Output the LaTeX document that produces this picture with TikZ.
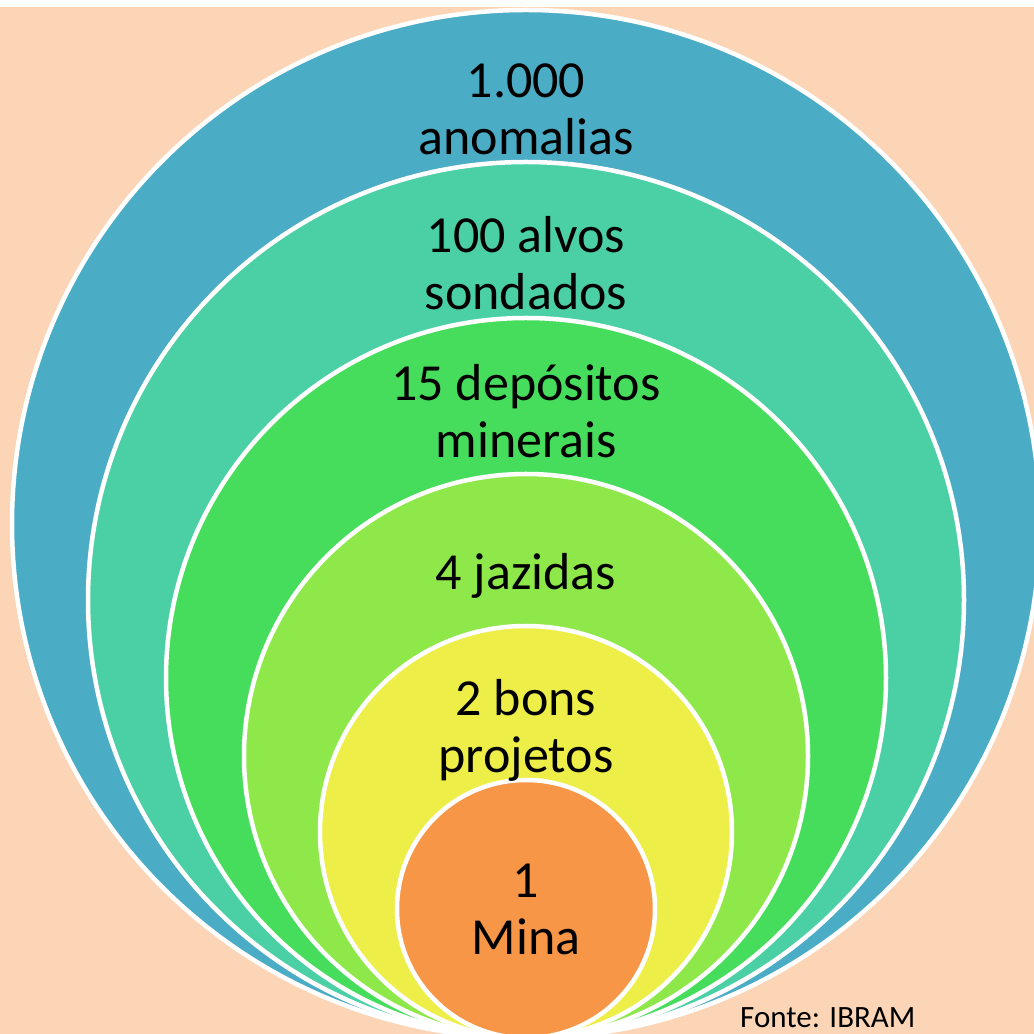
\documentclass[tikz,border=0pt]{standalone}
\usepackage{fontspec}
\setmainfont{Carlito}
\usetikzlibrary{
    positioning,
    calc
}
\definecolor{bgPeach}{RGB}{251, 213, 181}
\definecolor{ringBlue}{RGB}{75, 172, 198}
\definecolor{ringTeal}{RGB}{74, 208, 164}
\definecolor{ringGreen}{RGB}{71, 221, 92}
\definecolor{ringLime}{RGB}{143, 232, 74}
\definecolor{ringYellow}{RGB}{238, 238, 72}
\definecolor{ringOrange}{RGB}{247, 150, 70}
\def\picW{1034}
\def\picH{1034}
\def\cx{526}
\tikzset{
    ring/.style={
        circle,
        draw=white,
        line width=4.5pt,
        inner sep=0pt
    },
    tag/.style={
        font=\fontsize{52}{57}\selectfont,
        text=black,
        align=center,
        inner sep=0pt,
        anchor=base
    },
    source/.style={
        font=\fontsize{31}{35}\selectfont,
        text=black,
        inner sep=0pt,
        anchor=base west
    }
}

\begin{document}
\begin{tikzpicture}[x=1pt, y=1pt]
    \useasboundingbox (0,0) rectangle (\picW, \picH);
    \fill[white] (0,0) rectangle (\picW, \picH);
    \fill[bgPeach] (0,0) rectangle (\picW, 1027);
    \clip (0,0) rectangle (\picW, 1027);

    % Nested circles, all touching at the bottom
    \node[ring, fill=ringBlue, minimum size=1028pt] (anomalias) at (\cx, 510) {};
    \node[ring, fill=ringTeal, minimum size=876pt] (sondados) at (\cx, 434) {};
    \node[ring, fill=ringGreen, minimum size=720pt] (depositos) at (\cx, 356) {};
    \node[ring, fill=ringLime, minimum size=564pt] (jazidas) at (\cx, 278) {};
    \node[ring, fill=ringYellow, minimum size=412pt] (projetos) at (\cx, 202) {};
    \node[ring, fill=ringOrange, minimum size=258pt] (mina) at (\cx, 125) {};

    % Labels (base = last line)
    \node[tag] (tAnomalias) at (\cx, 879) {1.000\\anomalias};
    \node[tag] (tSondados) at (\cx, 724) {100 alvos\\sondados};
    \node[tag] (tDepositos) at (\cx, 576) {15 depósitos\\minerais};
    \node[tag] (tJazidas) at (\cx, 444) {4 jazidas};
    \node[tag] (tProjetos) at (\cx, 261) {2 bons\\projetos};
    \node[tag] (tMina) at (\cx, 79) {1\\Mina};

    \node[source] (fonte) at (740, 6) {Fonte: IBRAM};
\end{tikzpicture}
\end{document}
